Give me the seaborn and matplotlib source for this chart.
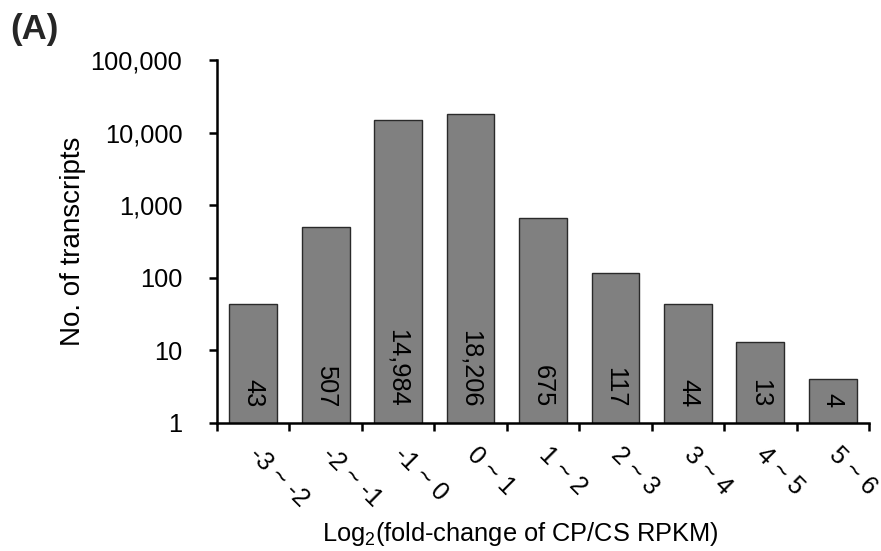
import matplotlib
matplotlib.use("Agg")
import matplotlib.pyplot as plt
import matplotlib.ticker as mticker
import seaborn as sns
import pandas as pd
import numpy as np

# Log2 fold-change bins and transcript counts
bins = ["-3 ~ -2", "-2 ~ -1", "-1 ~ 0", "0 ~ 1", "1 ~ 2", "2 ~ 3", "3 ~ 4", "4 ~ 5", "5 ~ 6"]
counts = [43, 507, 14984, 18206, 675, 117, 44, 13, 4]

df = pd.DataFrame({"bin": bins, "count": counts})

sns.set_theme(style="ticks")
plt.rcParams["font.family"] = ["Liberation Sans", "DejaVu Sans"]
plt.rcParams["mathtext.fontset"] = "custom"
plt.rcParams["mathtext.rm"] = "Liberation Sans"

FS = 18.3

fig = plt.figure(figsize=(8.81, 5.51), dpi=100)
ax = fig.add_axes([217 / 881, 1 - 423 / 551, (869 - 217) / 881, (423 - 60) / 551])

ax.set_yscale("log")
sns.barplot(data=df, x="bin", y="count", color="#808080", saturation=1,
            width=0.66, edgecolor="#2a2a2a", linewidth=1.0, ax=ax)

ax.set_ylim(1, 100000)
ax.set_xlim(-0.5, len(bins) - 0.5)

# value labels inside each bar, reading downward
for i, c in enumerate(counts):
    ax.text(i, 1.65, f"{c:,}", rotation=270, rotation_mode="anchor",
            ha="right", va="center", fontsize=FS, color="black")

# y axis: decades with thousands separators
ax.yaxis.set_major_locator(mticker.FixedLocator([1, 10, 100, 1000, 10000, 100000]))
ax.yaxis.set_minor_locator(mticker.NullLocator())
ax.yaxis.set_major_formatter(mticker.FuncFormatter(lambda v, p: f"{v:,.0f}"))
ax.tick_params(axis="y", which="major", length=6, width=1.8, pad=19,
               labelsize=FS, colors="black", direction="out")

# x axis: ticks on bin boundaries, labels at bin centres
ax.xaxis.set_major_locator(mticker.FixedLocator(np.arange(-0.5, len(bins), 1.0)))
ax.xaxis.set_major_formatter(mticker.NullFormatter())
ax.xaxis.set_minor_locator(mticker.FixedLocator(np.arange(len(bins))))
ax.xaxis.set_minor_formatter(mticker.FixedFormatter(bins))
ax.tick_params(axis="x", which="major", length=6, width=1.8, direction="out", colors="black")
ax.tick_params(axis="x", which="minor", length=0, pad=20, labelsize=18, labelcolor="black")
for lab in ax.get_xticklabels(minor=True):
    lab.set_rotation(-45)
    lab.set_rotation_mode("anchor")
    lab.set_ha("left")
    lab.set_va("center")

ax.set_xlabel("Log$_{\\mathregular{2}}$(fold-change of CP/CS RPKM)", fontsize=FS, color="black")
ax.xaxis.set_label_coords((520 - 217) / 652, -(520 - 423) / 363)
ax.xaxis.label.set_va("top")
ax.set_ylabel("No. of transcripts", fontsize=20, color="black")
ax.yaxis.set_label_coords((86 - 217) / 652, 0.5)

sns.despine(ax=ax)
for s in ("left", "bottom"):
    ax.spines[s].set_linewidth(1.8)
    ax.spines[s].set_color("black")

fig.text(10 / 881, 1 - 13 / 551, "(A)", fontsize=25, fontweight="bold", ha="left", va="top")

fig.savefig("out.png", dpi=100, facecolor="white")
